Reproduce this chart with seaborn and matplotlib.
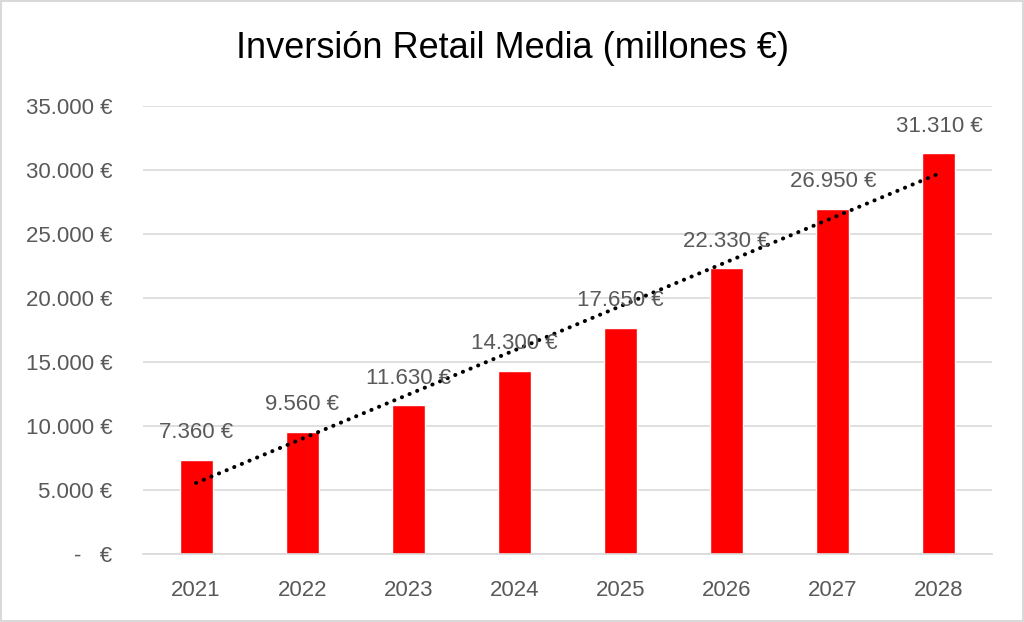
import matplotlib
matplotlib.use("Agg")
import matplotlib.pyplot as plt
import seaborn as sns
import numpy as np
import pandas as pd

years = ["2021", "2022", "2023", "2024", "2025", "2026", "2027", "2028"]
values = [7360, 9560, 11630, 14300, 17650, 22330, 26950, 31310]
y_ticks = [0, 5000, 10000, 15000, 20000, 25000, 30000, 35000]

sns.set_theme(style="white")
plt.rcParams['font.family'] = ['Liberation Sans', 'DejaVu Sans']

df = pd.DataFrame({"year": years, "value": values})

fig = plt.figure(figsize=(10.24, 6.22), dpi=100)
ax = fig.add_axes([143/1024, 1-554/622, (992-143)/1024, (554-106)/622])

sns.barplot(data=df, x="year", y="value", color="#FF0000", width=0.31,
            saturation=1, ax=ax, zorder=2)

# linear trendline
xs = np.arange(len(values))
slope, intercept = np.polyfit(xs, values, 1)
ax.plot(xs, intercept + slope * xs, color="black", linestyle=(0, (0.05, 2.0)),
        linewidth=2.9, dash_capstyle="round", zorder=3)

def fmt(v):
    return f"{v:,}".replace(",", ".") + " €"

for x, v in zip(xs, values):
    ax.annotate(fmt(v), xy=(x, v), xytext=(0, 19.5), textcoords="offset points",
                ha="center", va="center", fontsize=16, color="#595959", zorder=4)

ax.set_ylim(0, 35000)
ax.set_xlim(-0.5, len(values) - 0.5)
ax.set_yticks(y_ticks)
ax.set_yticklabels(["-   €"] + [fmt(t) for t in y_ticks[1:]])
ax.yaxis.grid(True, color="#D9D9D9", linewidth=1.2)
ax.set_axisbelow(True)
for s in ["top", "right", "left"]:
    ax.spines[s].set_visible(False)
ax.spines["bottom"].set_color("#D9D9D9")
ax.spines["bottom"].set_linewidth(1.2)
ax.tick_params(axis="both", length=0, labelsize=16, colors="#595959")
ax.tick_params(axis="x", pad=19)
ax.tick_params(axis="y", pad=22)
ax.set_xlabel("")
ax.set_ylabel("")

fig.text(0.5, 1-49/622, "Inversión Retail Media (millones €)", ha="center",
         va="center", fontsize=26, color="black")

border = plt.Rectangle((0.001, 0.001), 0.998, 0.998, transform=fig.transFigure,
                       fill=False, edgecolor="#D9D9D9", linewidth=1.5)
fig.add_artist(border)

fig.savefig("out.png", dpi=100)
